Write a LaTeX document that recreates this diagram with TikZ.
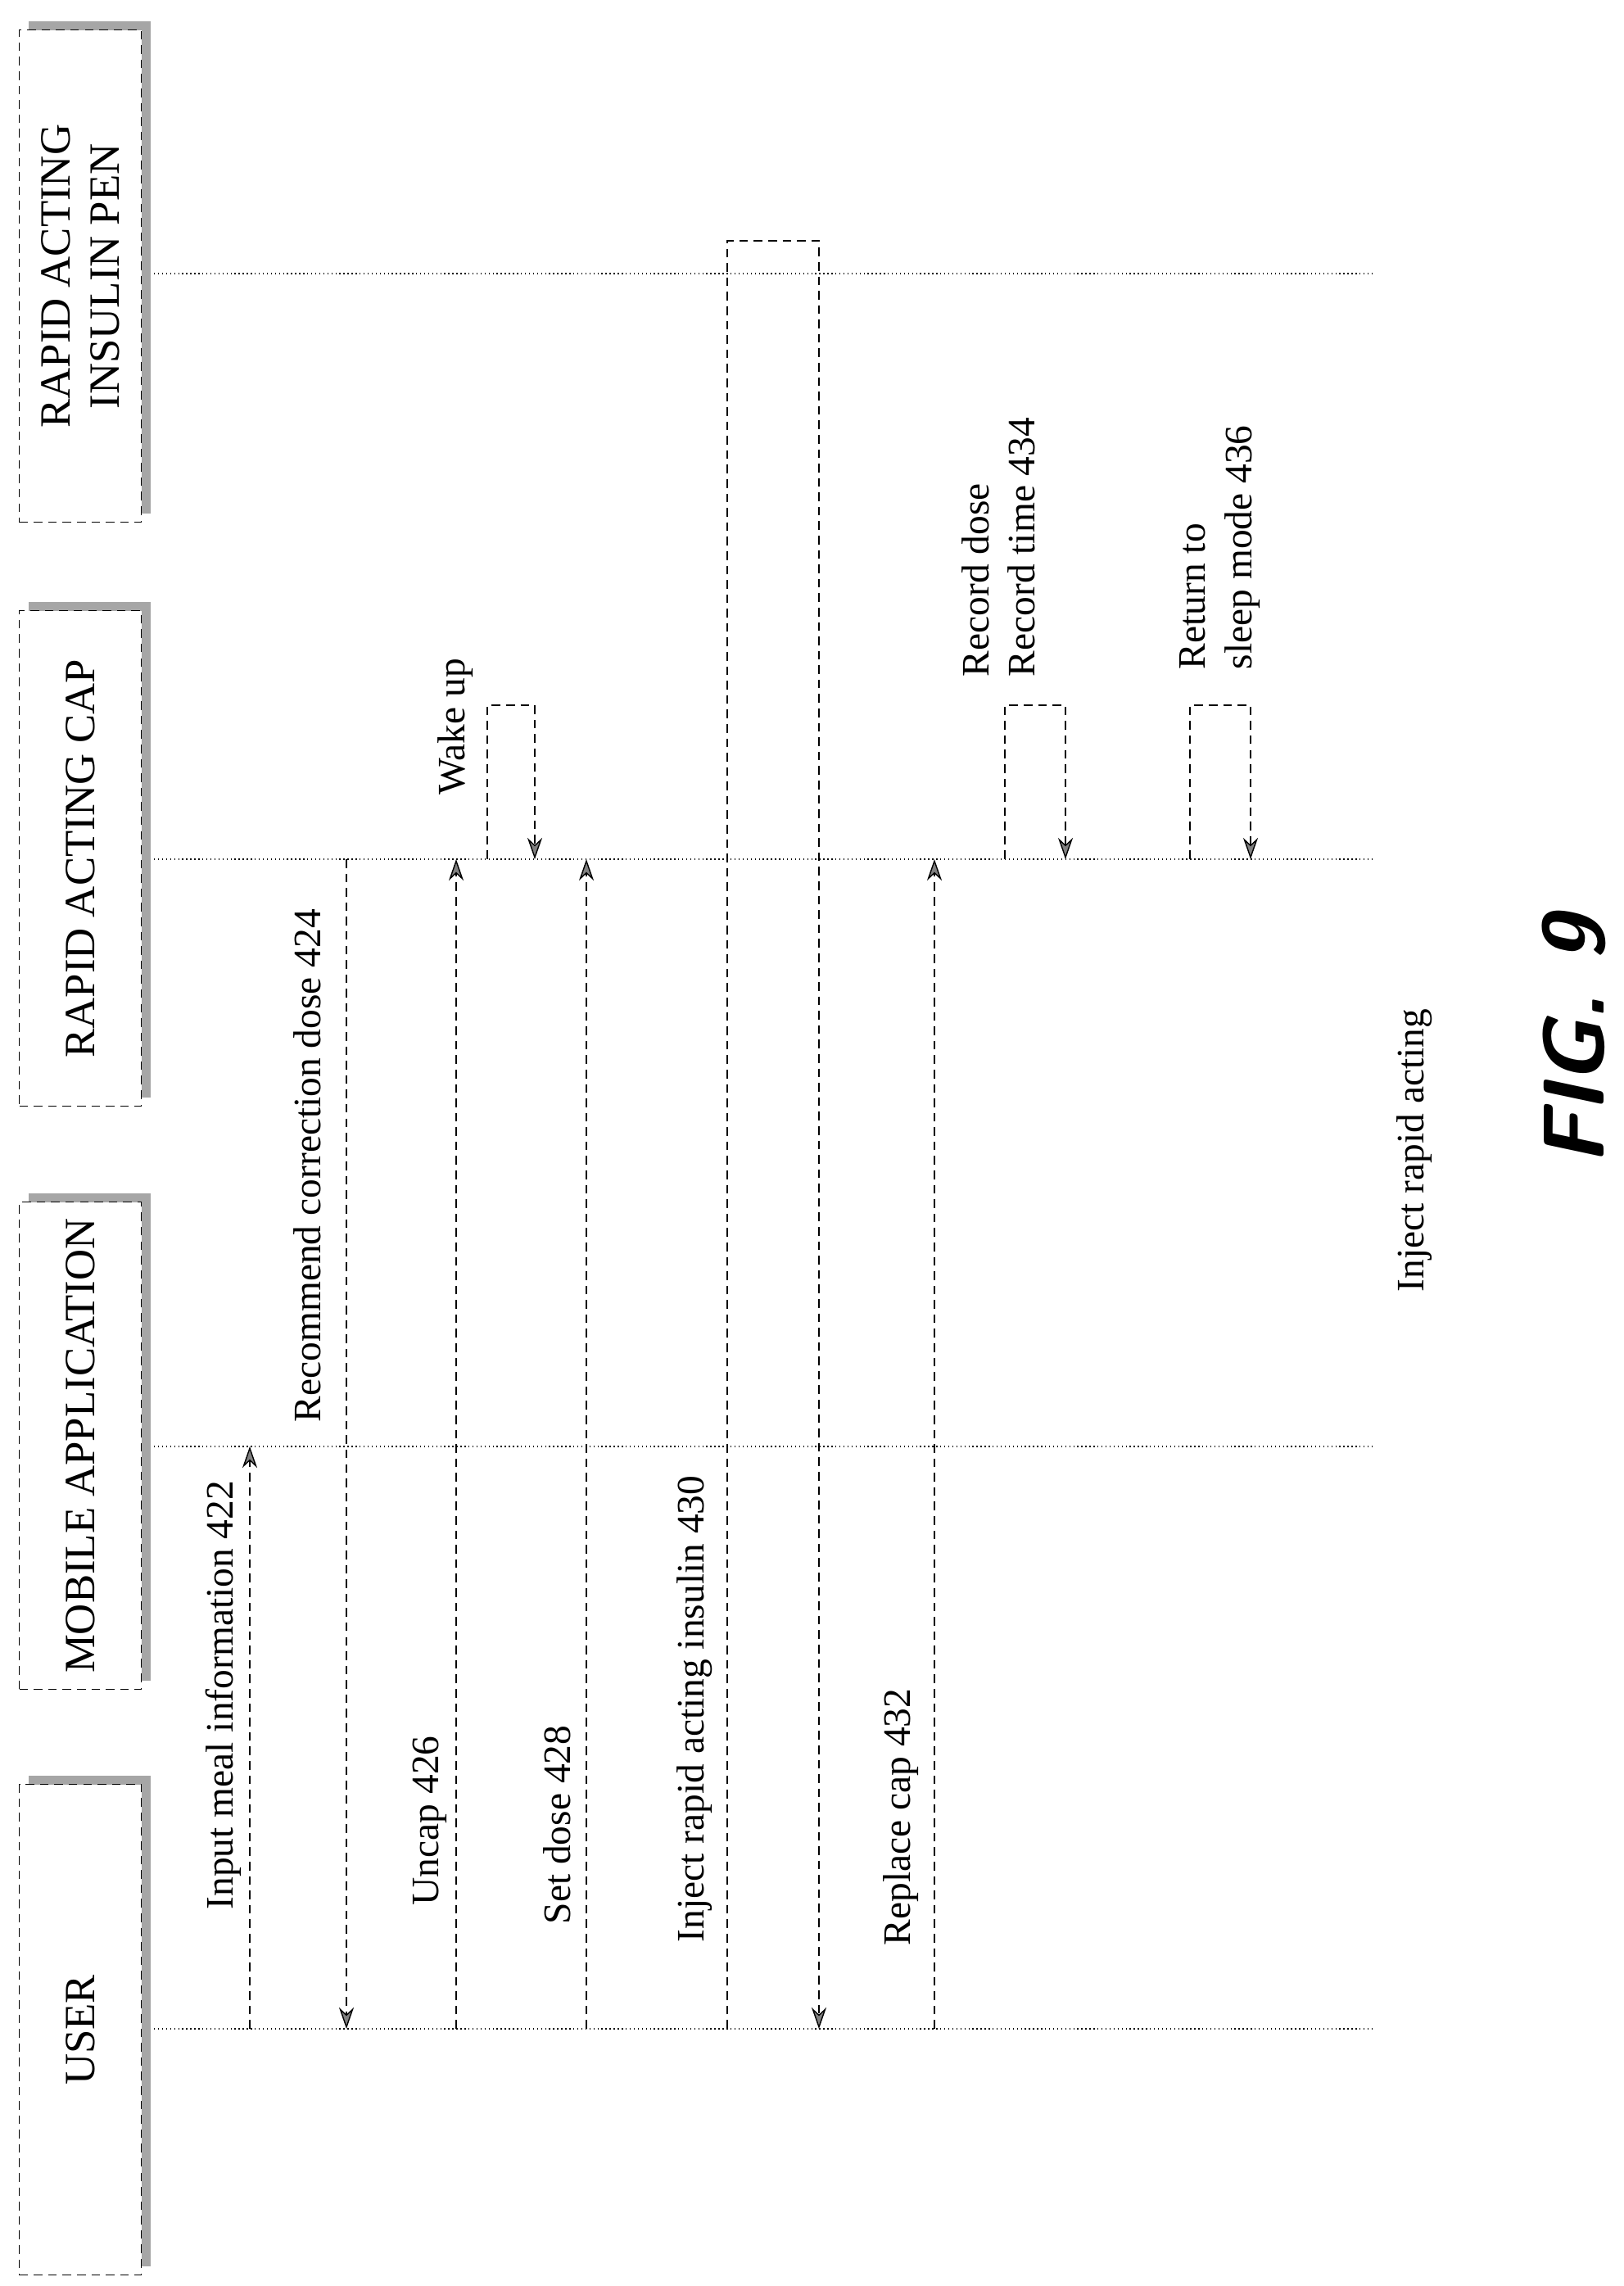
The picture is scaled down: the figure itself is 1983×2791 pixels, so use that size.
\documentclass[tikz,border=0pt]{standalone}
\usepackage{fontspec}
\setmainfont{Liberation Serif}
\usetikzlibrary{arrows.meta}
\tikzset{
  actor/.style={draw, densely dashed, fill=white, minimum width=1.49cm, minimum height=#1, inner sep=0pt},
  life/.style={densely dotted, thin},
  msg/.style={densely dashed, thin, -{Stealth[length=2.6mm, width=1.8mm, fill=gray]}},
  lbl/.style={rotate=90, anchor=south west, inner sep=2pt, font=\fontsize{13.5}{16}\selectfont},
  head/.style={rotate=90, align=center, font=\fontsize{15}{17}\selectfont},
}
\begin{document}
\begin{tikzpicture}[x=0.01cm, y=-0.01cm]
	\useasboundingbox (0,0) rectangle (1983,2791);

	% actor boxes with shadow
	\foreach \nm/\top/\bot in {pen/36/637, cap/745/1350, app/1467/2062, usr/2178/2777}{
		\fill[gray!70] (35,\top-10) rectangle (184,\bot-10);
		\node[actor=(\bot-\top)*0.01cm, anchor=north west] (\nm) at (23,\top) {};
	}
	\node[head] at (pen) {RAPID ACTING\\INSULIN PEN};
	\node[head] at (cap) {RAPID ACTING CAP};
	\node[head] at (app) {MOBILE APPLICATION};
	\node[head] at (usr) {USER};

	% lifelines
	\coordinate (lp) at (188,334);
	\coordinate (lc) at (188,1049);
	\coordinate (la) at (188,1766);
	\coordinate (lu) at (188,2477);
	\foreach \c in {lp,lc,la,lu}
		\draw[life] (\c) -- ++(1490,0);

	% messages
	\draw[msg] (305,0 |- lu) -- (305,0 |- la);		% input meal
	\draw[msg] (423,0 |- lc) -- (423,0 |- lu);		% recommend
	\draw[msg] (557,0 |- lu) -- (557,0 |- lc);		% uncap
	\draw[msg] (716,0 |- lu) -- (716,0 |- lc);		% set dose
	\draw[msg] (888,0 |- lu) -- (888,294) -- (1000,294) -- (1000,0 |- lu);	% inject
	\draw[msg] (1141,0 |- lu) -- (1141,0 |- lc);	% replace cap
	\draw[msg] (595,0 |- lc) -- (595,861) -- (653,861) -- (653,0 |- lc);	% wake up
	\draw[msg] (1227,0 |- lc) -- (1227,861) -- (1301,861) -- (1301,0 |- lc);	% record
	\draw[msg] (1453,0 |- lc) -- (1453,861) -- (1527,861) -- (1527,0 |- lc);	% sleep

	% labels
	\node[lbl] (t422) at (302,2339) {Input meal information 422};
	\node[lbl] (t424) at (400,1744) {Recommend correction dose 424};
	\node[lbl] (t426) at (553,2334) {Uncap 426};
	\node[lbl] (t428) at (705,2357) {Set dose 428};
	\node[lbl] (t430) at (877,2379) {Inject rapid acting insulin 430};
	\node[lbl] (t432) at (1129,2383) {Replace cap 432};
	\node[lbl] (twk) at (585,978) {Wake up};
	\node[lbl, align=left] (t434) at (1272,834) {Record dose\\Record time 434};
	\node[lbl, align=left] (t436) at (1546,825) {Return to\\sleep mode 436};
	\node[lbl] (tinj) at (1756,1585) {Inject rapid acting};

	\node[rotate=90, font=\fontsize{30}{34}\selectfont\sffamily\bfseries\itshape] (fig) at (1922,1270) {FIG. 9};
\end{tikzpicture}
\end{document}
